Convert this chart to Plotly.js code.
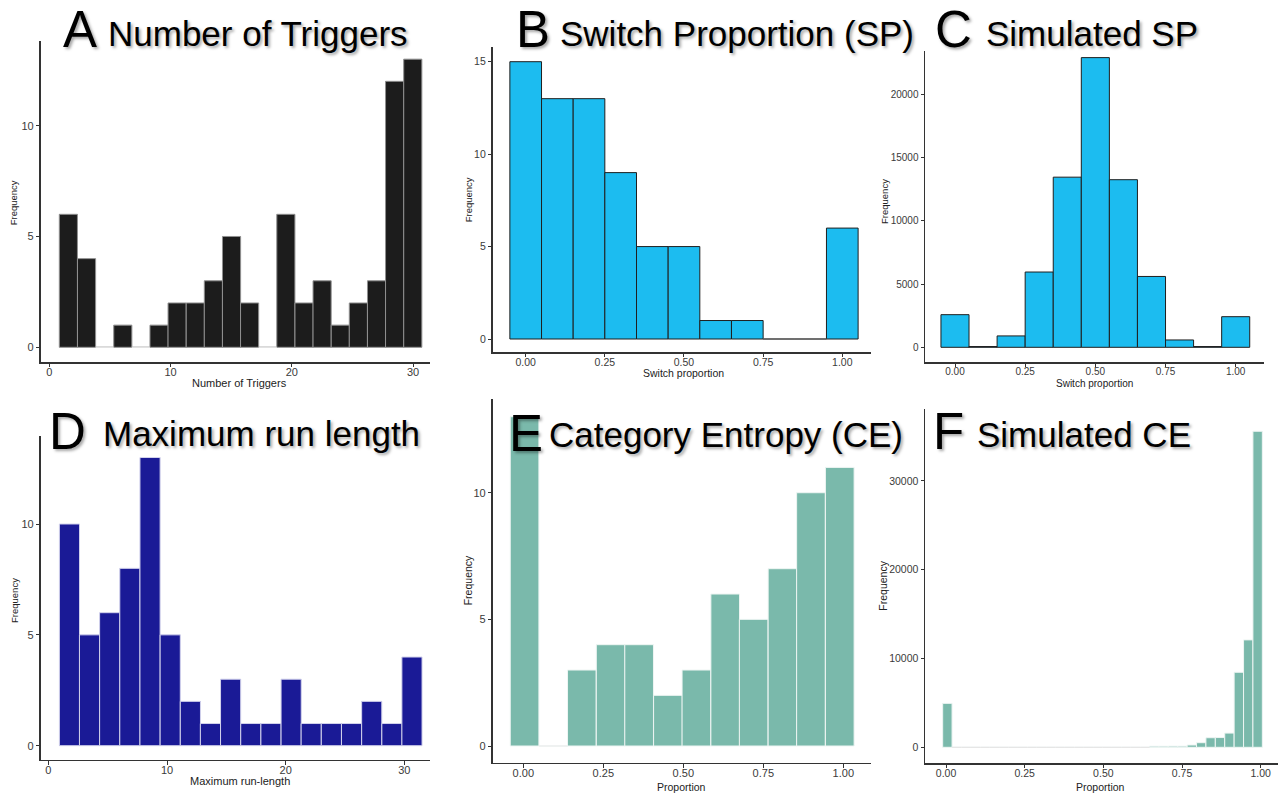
<!DOCTYPE html>
<html>
<head>
<meta charset="utf-8">
<script src="https://cdn.plot.ly/plotly-3.0.1.min.js"></script>
<style>html,body{margin:0;padding:0;background:#fff;}#chart{width:1287px;height:793px;}</style>
</head>
<body>
<div id="chart"></div>
<script>
// ---------------- DATA ----------------
// A: Number of Triggers (bin centres, counts)
const trigBins = [1.57, 3.07, 4.56, 6.06, 7.55, 9.05, 10.54, 12.04, 13.53, 15.03, 16.52, 18.02, 19.51, 21.01, 22.50, 24.00, 25.49, 26.99, 28.48, 29.98];
const trigCounts = [6, 4, 0, 1, 0, 1, 2, 2, 3, 5, 2, 0, 6, 2, 3, 1, 2, 3, 12, 13];
// B: Switch proportion (observed)
const spBins = [0, 0.1, 0.2, 0.3, 0.4, 0.5, 0.6, 0.7, 0.8, 0.9, 1.0];
const spCounts = [15, 13, 13, 9, 5, 5, 1, 1, 0, 0, 6];
// C: Simulated switch proportion
const simSpCounts = [2580, 60, 900, 5950, 13450, 22900, 13250, 5600, 580, 60, 2420];
// D: Maximum run-length
const runBins = [1.78, 3.47, 5.17, 6.87, 8.57, 10.27, 11.97, 13.66, 15.36, 17.06, 18.76, 20.46, 22.15, 23.85, 25.55, 27.25, 28.95, 30.64];
const runCounts = [10, 5, 6, 8, 13, 5, 2, 1, 3, 1, 1, 3, 1, 1, 1, 2, 1, 4];
// E: Category entropy (observed)
const ceBins = [0.004, 0.094, 0.183, 0.273, 0.362, 0.452, 0.541, 0.631, 0.720, 0.810, 0.899, 0.989];
const ceCounts = [13, 0, 3, 4, 4, 2, 3, 6, 5, 7, 10, 11];
// F: Simulated category entropy
const simCeBins = [0.0043, 0.0342, 0.0641, 0.0939, 0.1238, 0.1537, 0.1836, 0.2135, 0.2433, 0.2732,
  0.3031, 0.3330, 0.3629, 0.3927, 0.4226, 0.4525, 0.4824, 0.5123, 0.5421, 0.5720,
  0.6019, 0.6318, 0.6617, 0.6915, 0.7214, 0.7513, 0.7812, 0.8111, 0.8409, 0.8708,
  0.9007, 0.9306, 0.9605, 0.9903];
const simCeCounts = [4950, 0, 0, 0, 0, 0, 0, 0, 0, 0,
  0, 0, 0, 0, 0, 0, 0, 0, 0, 0,
  0, 0, 120, 120, 130, 130, 260, 520, 1080, 1100,
  1600, 8450, 12100, 35600];

// tick labels
const intTicks = [0, 10, 20, 30];
const intTickText = ['0', '10', '20', '30'];
const propTicks = [0, 0.25, 0.5, 0.75, 1];
const propTickText = ['0.00', '0.25', '0.50', '0.75', '1.00'];
const freqTicks10 = [0, 5, 10];
const freqTicks10Text = ['0', '5', '10'];
const freqTicks15 = [0, 5, 10, 15];
const freqTicks15Text = ['0', '5', '10', '15'];
const simSpTicks = [0, 5000, 10000, 15000, 20000];
const simSpTickText = ['0', '5000', '10000', '15000', '20000'];
const simCeTicks = [0, 10000, 20000, 30000];
const simCeTickText = ['0', '10000', '20000', '30000'];

// titles
const panelLetters = ['A', 'B', 'C', 'D', 'E', 'F'];
const panelNames = ['Number of Triggers', 'Switch Proportion (SP)', 'Simulated SP', 'Maximum run length', 'Category Entropy (CE)', 'Simulated CE'];
const xLabels = ['Number of Triggers', 'Switch proportion', 'Switch proportion', 'Maximum run-length', 'Proportion', 'Proportion'];
const yLabel = 'Frequency';

// ---------------- LAYOUT / STYLE ----------------
const W = 1287, H = 793;
const panels = [
  {bins: trigBins, counts: trigCounts, bw: 1.495, fill: '#1c1c1c', edge: '#8f8f8f', zero: '#e2e2e2',
   px: [40.7, 430], py: [41, 362.3], xr: [-0.712, 31.40], yr: [-0.677, 13.82],
   xt: intTicks, xtt: intTickText, yt: freqTicks10, ytt: freqTicks10Text,
   xlab: [239, 383.3], ylab: [13.3, 203], tf: 11, xf: 11, yf: 9.5,
   letter: [61, 29.5], name: [106, 33.5]},
  {bins: spBins, counts: spCounts, bw: 0.1, fill: '#1cbcf0', edge: '#1f1f1f', zero: '#8a8a8a',
   px: [492.7, 871], py: [47, 352.3], xr: [-0.1042, 1.0907], yr: [-0.719, 15.795],
   xt: propTicks, xtt: propTickText, yt: freqTicks15, ytt: freqTicks15Text,
   xlab: [683, 372.7], ylab: [468.3, 200], tf: 10.5, xf: 10.5, yf: 9.5,
   letter: [514, 29.5], name: [558, 34]},
  {bins: spBins, counts: simSpCounts, bw: 0.1, fill: '#1cbcf0', edge: '#1f1f1f', zero: '#8a8a8a',
   px: [925.3, 1264.3], py: [51, 362.3], xr: [-0.1058, 1.1019], yr: [-1186, 23423],
   xt: propTicks, xtt: propTickText, yt: simSpTicks, ytt: simSpTickText,
   xlab: [1094, 383.3], ylab: [884, 202], tf: 10, xf: 10, yf: 9.5,
   letter: [933, 29.5], name: [984, 34]},
  {bins: runBins, counts: runCounts, bw: 1.698, fill: '#1a1a96', edge: '#d2d2ec', zero: '#e2e2ee',
   px: [40.7, 430], py: [436, 760], xr: [-0.643, 32.16], yr: [-0.645, 13.97],
   xt: intTicks, xtt: intTickText, yt: freqTicks10, ytt: freqTicks10Text,
   xlab: [240, 781], ylab: [14, 601], tf: 11, xf: 11, yf: 9.5,
   letter: [47, 431], name: [101, 433]},
  {bins: ceBins, counts: ceCounts, bw: 0.0896, fill: '#7ab9ab', edge: '#eef5f3', zero: '#ececec',
   px: [492.7, 871], py: [399, 762.7], xr: [-0.0956, 1.0866], yr: [-0.659, 13.70],
   xt: propTicks, xtt: propTickText, yt: freqTicks10, ytt: freqTicks10Text,
   xlab: [681, 787], ylab: [468.3, 580], tf: 11, xf: 10.5, yf: 10.5,
   letter: [507, 433], name: [547, 434]},
  {bins: simCeBins, counts: simCeCounts, bw: 0.02988, fill: '#7ab9ab', edge: '#eef5f3', zero: '#e6e6e6',
   px: [925.3, 1278.3], py: [409, 763.3], xr: [-0.0658, 1.056], yr: [-1802, 38110],
   xt: propTicks, xtt: propTickText, yt: simCeTicks, ytt: simCeTickText,
   xlab: [1100.7, 787], ylab: [883, 585.7], tf: 10.5, xf: 10.5, yf: 10.5,
   letter: [931, 431], name: [975, 434]}
];

const baseFont = 'Liberation Sans, Arial, sans-serif';
const titleFont = 'Liberation Sans, Arial, sans-serif';
const traces = [];
const layout = {
  width: W, height: H,
  margin: {l: 0, r: 0, t: 0, b: 0, pad: 0},
  paper_bgcolor: '#ffffff', plot_bgcolor: 'rgba(0,0,0,0)',
  showlegend: false,
  annotations: []
};

panels.forEach((p, i) => {
  const n = i === 0 ? '' : String(i + 1);
  const xa = 'x' + n, ya = 'y' + n;
  // zero-count bins: ggplot draws a flat outline on the baseline
  const zx = [], zy = [];
  p.counts.forEach((c, k) => {
    if (c === 0) {
      zx.push(p.bins[k] - p.bw / 2, p.bins[k] + p.bw / 2, null);
      zy.push(0, 0, null);
    }
  });
  if (zx.length) {
    traces.push({type: 'scatter', mode: 'lines', x: zx, y: zy, xaxis: xa, yaxis: ya,
      line: {color: p.zero, width: 1.2}, hoverinfo: 'skip', cliponaxis: false});
  }
  traces.push({
    type: 'bar', x: p.bins, y: p.counts, width: p.bw, xaxis: xa, yaxis: ya,
    marker: {color: p.fill, line: {color: p.edge, width: 1}},
    hoverinfo: 'x+y'
  });
  const axCommon = {
    showgrid: false, zeroline: false, showline: true, linecolor: '#333333', linewidth: 1.3,
    ticks: 'outside', ticklen: 3.5, tickwidth: 1, tickcolor: '#333333',
    tickfont: {family: baseFont, size: p.tf, color: '#3a3a3a'},
    fixedrange: true
  };
  layout['xaxis' + n] = Object.assign({}, axCommon, {
    domain: [p.px[0] / W, p.px[1] / W], range: p.xr, anchor: ya,
    tickmode: 'array', tickvals: p.xt, ticktext: p.xtt, ticklabelstandoff: -4
  });
  layout['yaxis' + n] = Object.assign({}, axCommon, {
    domain: [1 - p.py[1] / H, 1 - p.py[0] / H], range: p.yr, anchor: xa,
    tickmode: 'array', tickvals: p.yt, ticktext: p.ytt
  });
  // axis titles
  layout.annotations.push({
    xref: 'paper', yref: 'paper', x: p.xlab[0] / W, y: 1 - p.xlab[1] / H,
    xanchor: 'center', yanchor: 'middle', showarrow: false, text: xLabels[i],
    font: {family: baseFont, size: p.xf, color: '#222222'}
  });
  layout.annotations.push({
    xref: 'paper', yref: 'paper', x: p.ylab[0] / W, y: 1 - p.ylab[1] / H,
    xanchor: 'center', yanchor: 'middle', showarrow: false, text: yLabel, textangle: -90,
    font: {family: baseFont, size: p.yf, color: '#222222'}
  });
  // big panel titles
  layout.annotations.push({
    xref: 'paper', yref: 'paper', x: p.letter[0] / W, y: 1 - p.letter[1] / H,
    xanchor: 'left', yanchor: 'middle', showarrow: false, text: panelLetters[i],
    font: {family: titleFont, size: 51, color: '#000000', shadow: '2px 2px 3px rgba(0,0,0,0.35)'}
  });
  layout.annotations.push({
    xref: 'paper', yref: 'paper', x: p.name[0] / W, y: 1 - p.name[1] / H,
    xanchor: 'left', yanchor: 'middle', showarrow: false, text: panelNames[i],
    font: {family: titleFont, size: 35, color: '#000000', shadow: '2px 2px 3px rgba(0,0,0,0.35)'}
  });
});

Plotly.newPlot('chart', traces, layout, {staticPlot: true, displayModeBar: false});
</script>
</body>
</html>
